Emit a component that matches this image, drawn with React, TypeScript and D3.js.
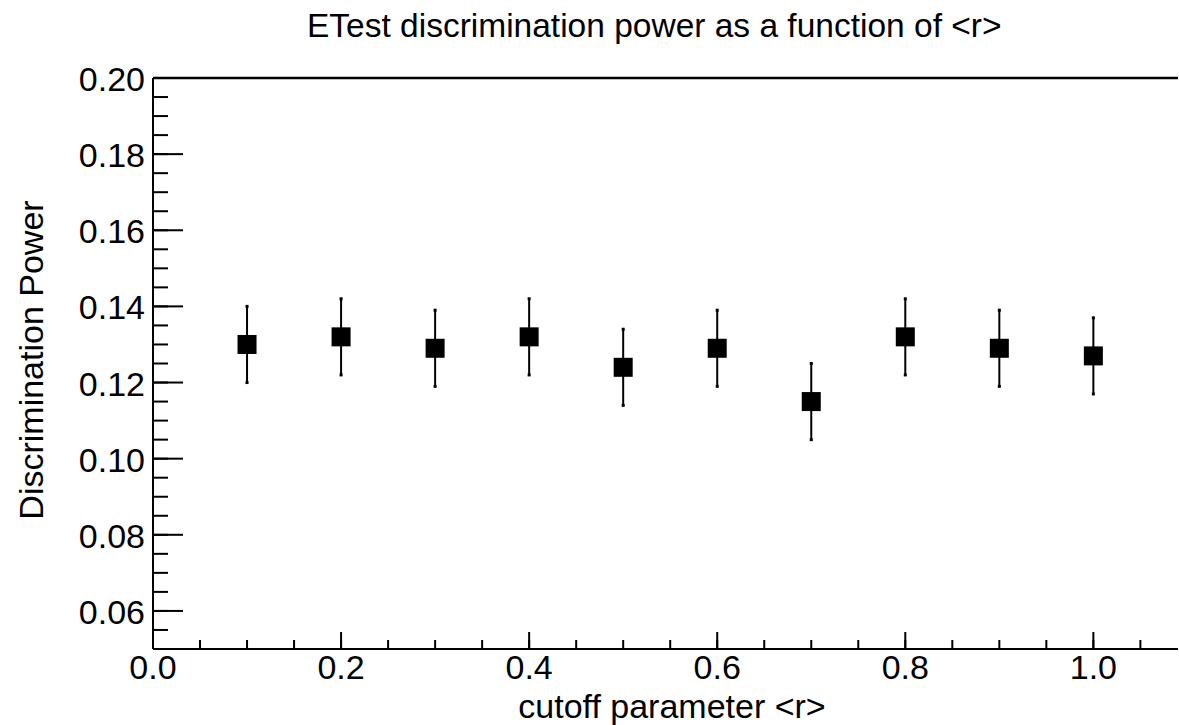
import * as d3 from 'd3'
import React, { useEffect, useRef } from 'react';

// Data
const cutoffs = [0.1, 0.2, 0.3, 0.4, 0.5, 0.6, 0.7, 0.8, 0.9, 1.0];
const power = [0.130, 0.132, 0.129, 0.132, 0.124, 0.129, 0.115, 0.132, 0.129, 0.127];
const powerErr = [0.010, 0.010, 0.010, 0.010, 0.010, 0.010, 0.010, 0.010, 0.010, 0.010];

const xMajor = [0.0, 0.2, 0.4, 0.6, 0.8, 1.0];
const yMajor = [0.06, 0.08, 0.10, 0.12, 0.14, 0.16, 0.18, 0.20];

const title = 'ETest discrimination power as a function of <r>';
const xTitle = 'cutoff parameter <r>';
const yTitle = 'Discrimination Power';

const App = () => {
    const w = 1179
    const h = 725
    const margin = { top: 78, right: 1, bottom: 76, left: 153 };

    const myRef = useRef<HTMLDivElement>(null);

    useEffect(() => {
        document.body.style.margin = '0';
        drawChart();
    }, []);

    function drawChart() {
        const root = myRef.current;
        d3.select(root).select('svg').remove();

        const font = '"Liberation Sans", Arial, Helvetica, sans-serif';
        const svg = d3.select(root)
            .append('svg')
            .attr('width', w)
            .attr('height', h)
            .style('display', 'block')
            .style('background', '#fff');

        const x0 = margin.left, x1 = w - margin.right;
        const y0 = margin.top, y1 = h - margin.bottom;

        const xScale = d3.scaleLinear().domain([0, 1.09]).range([x0, x1]);
        const yScale = d3.scaleLinear().domain([0.05, 0.20]).range([y1, y0]);

        // Title
        svg.append('text')
            .attr('x', 307)
            .attr('y', 37)
            .attr('text-anchor', 'start')
            .style('font-family', font)
            .style('font-size', '33.5px')
            .text(title);

        // Frame lines
        const frame = svg.append('g').attr('stroke', '#000').attr('fill', 'none');
        frame.append('line').attr('x1', x0).attr('x2', x1).attr('y1', y0).attr('y2', y0).attr('stroke-width', 2.5);
        frame.append('line').attr('x1', x0).attr('x2', x0).attr('y1', y0).attr('y2', y1).attr('stroke-width', 2);
        frame.append('line').attr('x1', x0).attr('x2', x1).attr('y1', y1).attr('y2', y1).attr('stroke-width', 2);

        // Y ticks
        const yMinor = d3.range(0.055, 0.2001, 0.005);
        frame.selectAll('.ymin').data(yMinor).enter().append('line')
            .attr('x1', x0).attr('x2', x0 + 15)
            .attr('y1', d => yScale(d)).attr('y2', d => yScale(d))
            .attr('stroke-width', 2);
        frame.selectAll('.ymaj').data(yMajor).enter().append('line')
            .attr('x1', x0).attr('x2', x0 + 30)
            .attr('y1', d => yScale(d)).attr('y2', d => yScale(d))
            .attr('stroke-width', 2);
        svg.selectAll('.ylab').data(yMajor).enter().append('text')
            .attr('x', x0 - 8)
            .attr('y', d => yScale(d) + 13)
            .attr('text-anchor', 'end')
            .style('font-family', font)
            .style('font-size', '34px')
            .text(d => d.toFixed(2));

        // X ticks
        const xMinor = d3.range(0.05, 1.0901, 0.05);
        frame.selectAll('.xmin').data(xMinor).enter().append('line')
            .attr('x1', d => xScale(d)).attr('x2', d => xScale(d))
            .attr('y1', y1).attr('y2', y1 - 9)
            .attr('stroke-width', 2);
        frame.selectAll('.xmaj').data(xMajor).enter().append('line')
            .attr('x1', d => xScale(d)).attr('x2', d => xScale(d))
            .attr('y1', y1).attr('y2', y1 - 17)
            .attr('stroke-width', 2);
        svg.selectAll('.xlab').data(xMajor).enter().append('text')
            .attr('x', d => xScale(d))
            .attr('y', 679)
            .attr('text-anchor', 'middle')
            .style('font-family', font)
            .style('font-size', '34px')
            .text(d => d.toFixed(1));

        // Axis titles
        svg.append('text')
            .attr('x', 672)
            .attr('y', 718)
            .attr('text-anchor', 'middle')
            .style('font-family', font)
            .style('font-size', '34px')
            .text(xTitle);
        svg.append('text')
            .attr('transform', `translate(43, 360) rotate(-90)`)
            .attr('text-anchor', 'middle')
            .style('font-family', font)
            .style('font-size', '34px')
            .text(yTitle);

        // Error bars
        const pts = cutoffs.map((c, i) => ({ x: c, y: power[i], e: powerErr[i] }));
        const bars = svg.append('g');
        bars.selectAll('line').data(pts).enter().append('line')
            .attr('x1', d => xScale(d.x)).attr('x2', d => xScale(d.x))
            .attr('y1', d => yScale(d.y + d.e)).attr('y2', d => yScale(d.y - d.e))
            .attr('stroke', '#000').attr('stroke-width', 2);
        bars.selectAll('.capT').data(pts).enter().append('rect')
            .attr('x', d => xScale(d.x) - 1.5).attr('y', d => yScale(d.y + d.e) - 1.5)
            .attr('width', 3).attr('height', 3).attr('fill', '#000');
        bars.selectAll('.capB').data(pts).enter().append('rect')
            .attr('x', d => xScale(d.x) - 1.5).attr('y', d => yScale(d.y - d.e) - 1.5)
            .attr('width', 3).attr('height', 3).attr('fill', '#000');

        // Markers
        const s = 19;
        svg.append('g').selectAll('rect').data(pts).enter().append('rect')
            .attr('x', d => xScale(d.x) - s / 2)
            .attr('y', d => yScale(d.y) - s / 2)
            .attr('width', s).attr('height', s)
            .attr('fill', '#000');
    }

    return <div ref={myRef} />;
}

export default App;
